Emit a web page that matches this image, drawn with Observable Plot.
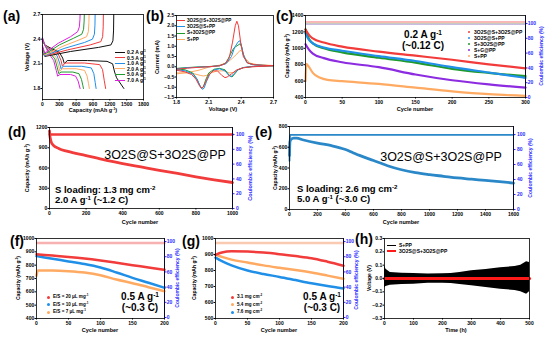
<!DOCTYPE html>
<html><head><meta charset="utf-8">
<script src="https://cdn.jsdelivr.net/npm/d3@7"></script>
<script src="https://cdn.jsdelivr.net/npm/@observablehq/plot@0.6"></script>
<style>
body{margin:0;background:#fff;}
#root{position:relative;width:554px;height:340px;overflow:hidden;background:#fff;font-family:Arial,"Liberation Sans",sans-serif;}
.t{position:absolute;white-space:nowrap;line-height:1;}
.t sup{font-size:0.65em;vertical-align:0.5em;line-height:0;}
.sw{position:absolute;}
</style></head><body><div id="root"></div>
<script>
// ---------- DATA ----------
// (a) galvanostatic curves [capacity mAh/g, voltage V]
const rateLabels = ["0.2 A g<sup>-1</sup>","0.5 A g<sup>-1</sup>","1.0 A g<sup>-1</sup>","2.0 A g<sup>-1</sup>","5.0 A g<sup>-1</sup>","7.0 A g<sup>-1</sup>"];
const dis_02 = [[0,2.37],[40,2.33],[150,2.29],[300,2.24],[360,2.17],[390,2.10],[440,2.14],[800,2.14],[1150,2.13],[1250,2.10],[1285,2.0],[1320,1.93],[1450,1.8]];
const dis_05 = [[0,2.38],[40,2.33],[140,2.28],[280,2.22],[330,2.14],[355,2.07],[400,2.11],[750,2.11],[1020,2.09],[1070,2.03],[1100,1.9],[1125,1.8]];
const dis_10 = [[0,2.39],[40,2.33],[130,2.27],[260,2.20],[305,2.11],[330,2.04],[370,2.07],[700,2.07],[870,2.05],[915,1.98],[940,1.87],[955,1.8]];
const dis_20 = [[0,2.40],[40,2.33],[120,2.26],[240,2.18],[285,2.08],[310,2.01],[350,2.04],[600,2.04],[750,2.02],[795,1.95],[820,1.86],[835,1.8]];
const dis_50 = [[0,2.41],[40,2.33],[110,2.25],[220,2.16],[265,2.05],[290,1.98],[330,2.0],[540,2.0],[650,1.98],[695,1.91],[718,1.84],[730,1.8]];
const dis_70 = [[0,2.42],[40,2.33],[100,2.24],[200,2.14],[245,2.02],[270,1.95],[310,1.97],[500,1.97],[590,1.95],[635,1.89],[658,1.83],[670,1.8]];
const chg_02 = [[0,2.25],[40,2.19],[120,2.20],[500,2.25],[1000,2.30],[1220,2.33],[1255,2.38],[1266,2.5],[1270,2.7]];
const chg_05 = [[0,2.26],[40,2.20],[120,2.21],[450,2.27],[850,2.33],[1040,2.37],[1072,2.43],[1082,2.55],[1085,2.7]];
const chg_10 = [[0,2.27],[40,2.20],[120,2.22],[400,2.29],[750,2.36],[890,2.40],[925,2.46],[935,2.57],[938,2.7]];
const chg_20 = [[0,2.28],[40,2.21],[120,2.23],[350,2.31],[650,2.39],[785,2.43],[817,2.49],[827,2.6],[830,2.7]];
const chg_50 = [[0,2.30],[40,2.22],[120,2.25],[300,2.33],[550,2.41],[700,2.46],[732,2.52],[742,2.62],[745,2.7]];
const chg_70 = [[0,2.32],[40,2.23],[120,2.27],[280,2.35],[500,2.43],[625,2.49],[657,2.55],[667,2.64],[670,2.7]];

// (b) CV loops [voltage V, current mA]
const cvLabels = ["3O2S@S+3O2S@PP","3O2S@S+PP","S+3O2S@PP","S+PP"];
const cv_red = [[1.8,-0.12],[1.9,-0.07],[2.0,-0.03],[2.1,0.0],[2.2,0.05],[2.25,0.15],[2.29,0.45],[2.32,1.2],[2.345,2.0],[2.36,2.22],[2.375,2.0],[2.395,1.2],[2.42,0.5],[2.46,0.18],[2.52,0.1],[2.6,0.07],[2.7,0.05],[2.6,0.02],[2.5,0.0],[2.42,-0.05],[2.36,-0.15],[2.31,-0.35],[2.27,-0.5],[2.25,-0.53],[2.22,-0.42],[2.18,-0.2],[2.14,-0.2],[2.1,-0.4],[2.07,-0.75],[2.045,-1.0],[2.03,-1.05],[2.01,-0.9],[1.98,-0.6],[1.94,-0.38],[1.88,-0.25],[1.8,-0.17]];
const cv_blue = [[1.8,-0.1],[1.9,-0.05],[2.0,-0.02],[2.1,0.0],[2.2,0.05],[2.26,0.15],[2.31,0.5],[2.34,0.95],[2.37,1.2],[2.385,1.27],[2.4,1.1],[2.42,0.6],[2.45,0.22],[2.5,0.1],[2.6,0.07],[2.7,0.05],[2.6,0.03],[2.5,0.01],[2.42,-0.04],[2.37,-0.15],[2.33,-0.35],[2.31,-0.47],[2.29,-0.45],[2.25,-0.2],[2.2,-0.1],[2.15,-0.15],[2.11,-0.35],[2.08,-0.7],[2.055,-1.05],[2.04,-1.1],[2.02,-0.95],[1.99,-0.6],[1.95,-0.35],[1.88,-0.2],[1.8,-0.14]];
const cv_green = [[1.8,-0.08],[1.9,-0.04],[2.0,-0.01],[2.1,0.01],[2.2,0.05],[2.26,0.18],[2.3,0.6],[2.33,0.9],[2.35,0.98],[2.37,1.05],[2.39,1.12],[2.405,0.95],[2.425,0.5],[2.46,0.18],[2.52,0.1],[2.6,0.07],[2.7,0.05],[2.6,0.03],[2.5,0.01],[2.42,-0.04],[2.37,-0.15],[2.34,-0.35],[2.315,-0.5],[2.29,-0.42],[2.25,-0.15],[2.2,-0.08],[2.15,-0.12],[2.1,-0.3],[2.07,-0.65],[2.05,-0.98],[2.035,-1.05],[2.015,-0.9],[1.99,-0.6],[1.95,-0.3],[1.88,-0.15],[1.8,-0.1]];
const cv_orange = [[1.8,-0.35],[1.9,-0.28],[2.0,-0.18],[2.1,-0.02],[2.2,0.08],[2.27,0.2],[2.32,0.42],[2.36,0.62],[2.39,0.8],[2.41,0.75],[2.44,0.4],[2.48,0.18],[2.55,0.1],[2.7,0.06],[2.6,0.03],[2.5,0.0],[2.42,-0.05],[2.37,-0.15],[2.33,-0.28],[2.29,-0.3],[2.24,-0.2],[2.18,-0.2],[2.12,-0.3],[2.08,-0.42],[2.05,-0.45],[2.02,-0.42],[1.97,-0.35],[1.9,-0.3],[1.8,-0.3]];

// (c) cycling at 0.2 A/g
const cLabels = ["3O2S@S+3O2S@PP","3O2S@S+PP","S+3O2S@PP","S+G@PP","S+PP"];
const cyc_c = [0,5,10,25,50,100,150,200,250,300];
const cap_c_red = [1230,1160,1120,1070,1020,960,910,860,805,755];
const cap_c_blue = [1180,1100,1060,1010,970,905,845,770,705,640];
const cap_c_green = [1230,1110,1060,1000,950,885,825,750,700,660];
const cap_c_purple = [1050,980,935,880,830,770,680,610,560,520];
const cyc_c_or = [0,1,5,10,20,30,50,100,150,200,250,300];
const cap_c_orange = [600,810,770,700,640,615,600,565,520,475,440,420];
const cyc_ce_c = [1,300];
const ce_c_red = [102.5,102.5];
const ce_c_blue = [100.5,100.5];
const ce_c_green = [100,100];
const ce_c_purple = [99.5,99.5];
const ce_c_orange = [101,101];

// (d) long cycling at 2.0 A/g
const cyc_d = [0,2,5,10,20,50,100,200,300,400,500,600,700,800,900,1000];
const cap_d = [1150,1080,1030,980,940,890,845,785,720,665,615,565,520,470,425,385];
const cyc_ce_d = [1,1000];
const ce_d = [100,100];

// (e) long cycling at 5.0 A/g
const cyc_e = [0,3,10,30,50,100,200,300,400,450,500,600,700,800,900,1000,1100,1200,1300,1400,1500,1600];
const cap_e = [520,650,675,688,688,670,640,615,578,550,522,472,422,383,355,336,320,304,292,280,268,255];
const cyc_ce_e = [0,2,5,1600];
const ce_e = [65,92,99.5,99.5];

// (f) E/S ratios
const fLabels = ["E/S = 20 μL mg<sup>-1</sup>","E/S = 10 μL mg<sup>-1</sup>","E/S = 7 μL mg<sup>-1</sup>"];
const cyc_f = [0,25,50,75,100,125,150,175,200];
const cap_f_20 = [882,872,862,850,835,818,800,783,765];
const cap_f_10 = [868,848,828,808,782,745,705,668,630];
const cyc_f_7 = [0,2,25,50,75,100,125,150,175,200];
const cap_f_7 = [720,760,760,755,745,725,692,665,635,605];
const cyc_ce_f = [1,200];
const ce_f = [98,98];

// (g) sulfur loadings
const gLabels = ["3.1 mg cm<sup>-2</sup>","5.4 mg cm<sup>-2</sup>","7.6 mg cm<sup>-2</sup>"];
const cyc_g = [0,10,25,50,75,100,125,150,175,200];
const cap_g_31 = [898,912,920,918,912,902,890,877,855,830];
const cap_g_54 = [900,885,868,850,832,817,803,787,768,748];
const cap_g_76 = [880,858,832,800,778,760,740,720,703,688];
const cyc_ce_g = [1,200];
const ce_g = [98,98];

// (h) symmetric cell voltage envelope
const hLabels = ["S+PP","3O2S@S+3O2S@PP"];
const t_h = [0,5,20,60,100,150,200,230,260,300,350,400,450,470,490,500];
const hi_h = [0.10,0.07,0.045,0.04,0.038,0.033,0.036,0.038,0.045,0.058,0.068,0.08,0.09,0.1,0.125,0.12];
const lo_h = [-0.07,-0.06,-0.05,-0.045,-0.043,-0.036,-0.035,-0.038,-0.045,-0.055,-0.068,-0.08,-0.09,-0.1,-0.118,-0.1];
const t_red_h = [0,500];
const v_red_h = [0,0];

// ---------- RENDER ----------
const FONT = 'Arial, "Liberation Sans", sans-serif';
const BLUEAX = "#2b2bff";
const RED = "#f23b3b", BLUE = "#1f8fe8", GREEN = "#1f9a2c", PURPLE = "#8c2be0", ORANGE = "#ffaa62", MAG = "#e21fe0";
const root = document.getElementById("root");

function txt(s, x, y, o = {}) {
  const d = document.createElement("div");
  d.className = "t";
  d.innerHTML = s;
  d.style.left = x + "px"; d.style.top = y + "px";
  d.style.fontSize = (o.size || 5.5) + "px";
  d.style.fontWeight = o.weight || "bold";
  d.style.color = o.color || "#000";
  const ax = o.align === "left" ? "0" : "-50%";
  d.style.transform = `translate(${ax},-50%)` + (o.rot ? " rotate(-90deg)" : "");
  root.appendChild(d);
}
function swLine(x1, x2, y, color, w) {
  const d = document.createElement("div"); d.className = "sw";
  d.style.left = x1 + "px"; d.style.width = (x2 - x1) + "px";
  d.style.top = (y - w / 2) + "px"; d.style.height = w + "px"; d.style.background = color;
  root.appendChild(d);
}
function swDot(x, y, color, r) {
  const d = document.createElement("div"); d.className = "sw";
  d.style.left = (x - r) + "px"; d.style.top = (y - r) + "px";
  d.style.width = 2 * r + "px"; d.style.height = 2 * r + "px";
  d.style.borderRadius = "50%"; d.style.background = color;
  root.appendChild(d);
}

const M = {l: 36, r: 36, t: 6, b: 14};
const TS = 1.5, TP = 0.8, TPX = 1.3;
function place(p, P) {
  p.style.position = "absolute";
  p.style.left = (P.L - M.l) + "px";
  p.style.top = (P.T - M.t) + "px";
  root.appendChild(p);
}
function fmt(f) { return f ? d3.format(f) : (d => String(d)); }
function mainPlot(P, marks) {
  const p = Plot.plot({
    width: P.R - P.L + M.l + M.r, height: P.B - P.T + M.t + M.b,
    marginLeft: M.l, marginRight: M.r, marginTop: M.t, marginBottom: M.b,
    style: {background: "transparent", overflow: "visible", fontFamily: FONT, fontWeight: "bold"},
    x: {domain: P.xd}, y: {domain: P.yd},
    marks: [
      ...marks,
      Plot.frame({stroke: "#000", strokeWidth: 0.8}),
      Plot.axisX(P.xt, {tickSize: TS, tickPadding: TPX, fontSize: 5, label: null, tickFormat: fmt(P.xf)}),
      Plot.axisY(P.yt, {tickSize: TS, tickPadding: TP, fontSize: 5, label: null, tickFormat: fmt(P.yf)})
    ]
  });
  place(p, P);
}
function rightPlot(P, marks) {
  const p = Plot.plot({
    width: P.R - P.L + M.l + M.r, height: P.B - P.T + M.t + M.b,
    marginLeft: M.l, marginRight: M.r, marginTop: M.t, marginBottom: M.b,
    style: {background: "transparent", overflow: "visible", fontFamily: FONT, fontWeight: "bold"},
    x: {domain: P.xd, axis: null}, y: {domain: P.y2d},
    marks: [
      ...marks,
      Plot.ruleX([P.xd[1]], {stroke: BLUEAX, strokeWidth: 1}),
      Plot.axisY(P.y2t, {anchor: "right", color: BLUEAX, tickSize: TS, tickPadding: P.rp || TP, fontSize: 5, label: null})
    ]
  });
  place(p, P);
}
const L = (arr, color, w = 1) => Plot.line(arr, {x: d => d[0], y: d => d[1], stroke: color, strokeWidth: w, curve: "linear"});
const S = (xs, ys, color, w = 2.2, op = 1) => Plot.line(ys, {x: xs, y: ys, stroke: color, strokeWidth: w, strokeOpacity: op, curve: "monotone-x"});

// ---- (a)
const A = {L: 42, T: 14, R: 143, B: 99, xd: [0, 1800], yd: [1.666, 2.7], xt: [0,300,600,900,1200,1500,1800], yt: [1.8,2.1,2.4,2.7], yf: ".1f"};
const aCols = ["#111", RED, BLUE, ORANGE, GREEN, MAG];
const aDis = [dis_02, dis_05, dis_10, dis_20, dis_50, dis_70];
const aChg = [chg_02, chg_05, chg_10, chg_20, chg_50, chg_70];
mainPlot(A, [...aDis.map((a, i) => L(a, aCols[i])), ...aChg.map((a, i) => L(a, aCols[i]))]);
rateLabels.forEach((s, i) => { const y = 52 + i * 5.6; swLine(115, 125, y, aCols[i], 1); txt(s, 127, y, {align: "left", size: 5}); });
txt("(a)", 3, 16, {align: "left", size: 14});
txt("Voltage (V)", 28, 57, {rot: true, size: 5.5});
txt("Capacity (mAh g<sup>-1</sup>)", 93, 111, {size: 5.5});

// ---- (b)
const B = {L: 176, T: 15, R: 273, B: 97, xd: [1.8, 2.7], yd: [-1.5, 2.5], xt: [1.8,2.1,2.4,2.7], yt: [-1.5,-1,-0.5,0,0.5,1,1.5,2,2.5], xf: ".1f", yf: ".1f"};
const bCols = [RED, BLUE, GREEN, ORANGE];
mainPlot(B, [cv_orange, cv_green, cv_blue, cv_red].map((a, i) => L(a, [ORANGE, GREEN, BLUE, RED][i], 1)));
cvLabels.forEach((s, i) => { const y = 20.5 + i * 6.4; swLine(177, 185, y, bCols[i], 1); txt(s, 187, y, {align: "left", size: 4.6}); });
txt("(b)", 146, 16, {align: "left", size: 14});
txt("Current (mA)", 158, 57, {rot: true, size: 5.5});
txt("Voltage (V)", 223, 109.5, {size: 5.5});

// ---- (c)
const C = {L: 305, T: 15, R: 525, B: 97, xd: [0, 300], yd: [400, 1400], xt: [0,50,100,150,200,250,300], yt: [400,600,800,1000,1200,1400], y2d: [0, 110.8], y2t: [0,20,40,60,80,100]};
rightPlot(C, [
  S(cyc_ce_c, ce_c_purple, "#b58ae8", 2, 0.8),
  S(cyc_ce_c, ce_c_green, "#9bd39f", 1.5, 0.7),
  S(cyc_ce_c, ce_c_blue, "#9cc8f0", 1.5, 0.7),
  S(cyc_ce_c, ce_c_orange, "#ffd0a8", 1.5, 0.8),
  S(cyc_ce_c, ce_c_red, "#f7a0a8", 1.5, 0.8)
]);
mainPlot(C, [
  S(cyc_c_or, cap_c_orange, ORANGE),
  S(cyc_c, cap_c_purple, PURPLE),
  S(cyc_c, cap_c_green, GREEN),
  S(cyc_c, cap_c_blue, BLUE),
  S(cyc_c, cap_c_red, RED)
]);
const cCols = [RED, BLUE, GREEN, PURPLE, ORANGE];
cLabels.forEach((s, i) => { const y = 32 + i * 6; swDot(469, y, cCols[i], 1.3); txt(s, 474, y, {align: "left", size: 5}); });
txt("0.2 A g<sup>-1</sup>", 423, 35, {size: 10});
txt("(~0.12 C)", 423, 46, {size: 10});
txt("(c)", 276, 16, {align: "left", size: 14});
txt("Capacity (mAh g<sup>-1</sup>)", 287, 56, {rot: true, size: 5});
txt("Coulombic efficiency (%)", 541, 56, {rot: true, size: 5, color: BLUEAX});
txt("Cycle number", 415, 109.5, {size: 5.5});

// ---- (d)
const D = {L: 49, T: 127, R: 232, B: 208, xd: [0, 1000], yd: [0, 1200], xt: [0,200,400,600,800,1000], yt: [0,300,600,900,1200], y2d: [0, 109.5], y2t: [0,20,40,60,80,100], rp: 2};
rightPlot(D, [S(cyc_ce_d, ce_d, RED, 2.5)]);
mainPlot(D, [S(cyc_d, cap_d, RED, 2.8)]);
txt("3O2S@S+3O2S@PP", 165, 155, {size: 12.5, weight: "normal"});
txt("S loading: 1.3 mg cm<sup>-2</sup>", 55, 190, {align: "left", size: 9.5});
txt("2.0 A g<sup>-1</sup> (~1.2 C)", 55, 200, {align: "left", size: 9.5});
txt("(d)", 8, 132, {align: "left", size: 14});
txt("Capacity (mAh g<sup>-1</sup>)", 28, 168, {rot: true, size: 5.5});
txt("Coulombic efficiency (%)", 251, 168, {rot: true, size: 5.5, color: BLUEAX});
txt("Cycle number", 140, 222.5, {size: 5.5});

// ---- (e)
const E = {L: 289, T: 126, R: 513, B: 209, xd: [0, 1600], yd: [0, 800], xt: [0,200,400,600,800,1000,1200,1400,1600], yt: [0,200,400,600,800], y2d: [0, 110.7], y2t: [0,20,40,60,80,100], rp: 2};
const EBLUE = "#2a88c8";
rightPlot(E, [S(cyc_ce_e, ce_e, EBLUE, 1.8)]);
mainPlot(E, [S(cyc_e, cap_e, EBLUE, 2.8)]);
txt("3O2S@S+3O2S@PP", 441, 157, {size: 12.5, weight: "normal"});
txt("S loading: 2.6 mg cm<sup>-2</sup>", 297, 189, {align: "left", size: 9.5});
txt("5.0 A g<sup>-1</sup> (~3.0 C)", 297, 199, {align: "left", size: 9.5});
txt("(e)", 255, 132, {align: "left", size: 14});
txt("Capacity (mAh g<sup>-1</sup>)", 275, 168, {rot: true, size: 5});
txt("Coulombic efficiency (%)", 530, 168, {rot: true, size: 5, color: BLUEAX});
txt("Cycle number", 401, 222.5, {size: 5.5});

// ---- (f)
const F = {L: 36, T: 238, R: 164, B: 318, xd: [0, 200], yd: [400, 1000], xt: [0,50,100,150,200], yt: [400,500,600,700,800,900,1000], y2d: [-1.3, 104], y2t: [0,20,40,60,80,100]};
rightPlot(F, [S(cyc_ce_f, ce_f, "#f7a8a8", 2.5, 0.9)]);
mainPlot(F, [S(cyc_f_7, cap_f_7, ORANGE, 2.5), S(cyc_f, cap_f_10, BLUE, 2.5), S(cyc_f, cap_f_20, RED, 2.5)]);
const fCols = [RED, BLUE, ORANGE];
fLabels.forEach((s, i) => { const y = 297 + i * 7.5; swDot(48, y, fCols[i], 1.5); txt(s, 53, y, {align: "left", size: 4.6}); });
txt("0.5 A g<sup>-1</sup>", 140, 297, {size: 10});
txt("(~0.3 C)", 140, 308, {size: 10});
txt("(f)", 10, 241, {align: "left", size: 14});
txt("Capacity (mAh g<sup>-1</sup>)", 18, 278, {rot: true, size: 5});
txt("Coulombic efficiency (%)", 177, 278, {rot: true, size: 5, color: BLUEAX});
txt("Cycle number", 100, 330.5, {size: 5.5});

// ---- (g)
const G = {L: 215, T: 238, R: 343, B: 318, xd: [0, 200], yd: [500, 1000], xt: [0,50,100,150,200], yt: [500,600,700,800,900,1000], y2d: [-1.3, 104], y2t: [0,20,40,60,80,100]};
rightPlot(G, [S(cyc_ce_g, ce_g, "#f9c4a8", 2.5, 0.9)]);
mainPlot(G, [S(cyc_g, cap_g_76, BLUE, 2.5), S(cyc_g, cap_g_54, ORANGE, 2.5), S(cyc_g, cap_g_31, RED, 2.5)]);
const gCols = [RED, ORANGE, BLUE];
gLabels.forEach((s, i) => { const y = 297 + i * 7.5; swDot(232, y, gCols[i], 1.5); txt(s, 237, y, {align: "left", size: 4.6}); });
txt("0.5 A g<sup>-1</sup>", 322, 297, {size: 10});
txt("(~0.3 C)", 322, 308, {size: 10});
txt("(g)", 182, 241, {align: "left", size: 14});
txt("Capacity (mAh g<sup>-1</sup>)", 194, 278, {rot: true, size: 5});
txt("Coulombic efficiency (%)", 356, 280, {rot: true, size: 5, color: BLUEAX});
txt("Cycle number", 279, 330.5, {size: 5.5});

// ---- (h)
const H = {L: 384, T: 238, R: 529, B: 318, xd: [0, 500], yd: [-0.3, 0.3], xt: [0,100,200,300,400,500], yt: [-0.3,-0.2,-0.1,0,0.1,0.2,0.3], yf: ".1f"};
mainPlot(H, [
  Plot.areaY(t_h, {x: t_h, y1: lo_h, y2: hi_h, fill: "#000", curve: "linear"}),
  Plot.line(v_red_h, {x: t_red_h, y: v_red_h, stroke: "#ff1a1a", strokeWidth: 3.2})
]);
swLine(387, 396, 245, "#000", 1); txt(hLabels[0], 399, 245, {align: "left", size: 5});
swLine(387, 396, 251, "#ff1a1a", 1.4); txt(hLabels[1], 399, 251, {align: "left", size: 5});
txt("(h)", 355, 239, {align: "left", size: 14});
txt("Voltage (V)", 369, 278, {rot: true, size: 5});
txt("Time (h)", 456, 330.5, {size: 5.5});
</script></body></html>
